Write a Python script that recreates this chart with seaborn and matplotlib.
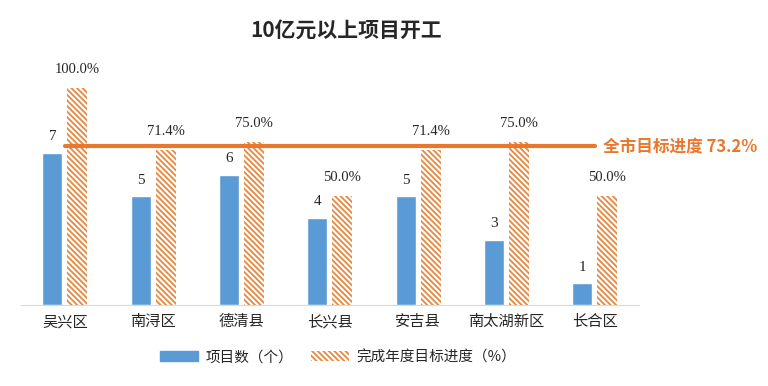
import pandas as pd
import matplotlib
matplotlib.use("Agg")
import matplotlib.pyplot as plt
import seaborn as sns
from matplotlib.patches import Patch

# ==============================
# DATA
# ==============================

regions = ['吴兴区', '南浔区', '德清县', '长兴县', '安吉县', '南太湖新区', '长合区']
project_counts = [7, 5, 6, 4, 5, 3, 1]
progress_pct = [100.0, 71.4, 75.0, 50.0, 71.4, 75.0, 50.0]
city_target = 73.2

series_names = ['项目数（个）', '完成年度目标进度（%）']

BLUE = '#5B9BD5'
ORANGE = '#E8873F'
LINE = '#E8782E'
HATCH = '\\' * 6

# ==============================
# STYLE
# ==============================

sns.set_style("white")
plt.rcParams['font.family'] = ['Liberation Serif', 'Noto Sans CJK SC', 'DejaVu Sans']
plt.rcParams['hatch.linewidth'] = 1.3
plt.rcParams['hatch.color'] = ORANGE

# long tables; NaN for the series drawn on the other axis
cnt_df = pd.DataFrame({
    'region': regions * 2,
    'series': [series_names[0]] * 7 + [series_names[1]] * 7,
    'value': project_counts + [float('nan')] * 7,
})
pct_df = pd.DataFrame({
    'region': regions * 2,
    'series': [series_names[0]] * 7 + [series_names[1]] * 7,
    'value': [float('nan')] * 7 + progress_pct,
})

fig = plt.figure(figsize=(7.68, 3.86), dpi=100)
ax = fig.add_axes([0.027, 0.21, 0.805, 0.59])
ax2 = ax.twinx()

sns.barplot(data=cnt_df, x='region', y='value', hue='series', hue_order=series_names,
            order=regions, width=0.566, gap=0.2, palette=[BLUE, BLUE], saturation=1,
            errorbar=None, legend=False, ax=ax)
sns.barplot(data=pct_df, x='region', y='value', hue='series', hue_order=series_names,
            order=regions, width=0.566, gap=0.2, palette=['white', 'white'], saturation=1,
            errorbar=None, legend=False, ax=ax2)

for p in ax2.patches:
    p.set_hatch(HATCH)
    p.set_edgecolor(ORANGE)
    p.set_linewidth(0)

ax.set_ylim(0, 10.5)
ax2.set_ylim(0, 105)
ax.set_xlim(-0.5, 6.5)

# value labels
for c in ax.containers:
    ax.bar_label(c, labels=[('' if pd.isna(v) else f'{int(v)}') for v in c.datavalues],
                 padding=7, fontsize=11)
for c in ax2.containers:
    ax2.bar_label(c, labels=[('' if pd.isna(v) else f'{v:.1f}%') for v in c.datavalues],
                  padding=9, fontsize=10.5)

# city target line
ax2.plot([0, 6.0], [city_target, city_target], color=LINE, lw=3, solid_capstyle='round')
ax2.text(6.09, city_target, f'全市目标进度 {city_target}%', color=LINE,
         fontsize=12, fontweight='bold', va='center', ha='left',
         family=['Noto Sans CJK SC', 'DejaVu Sans'], clip_on=False)

# axes styling
for a in (ax, ax2):
    for s in ['top', 'right', 'left']:
        a.spines[s].set_visible(False)
    a.set_yticks([])
    a.set_ylabel('')
    a.set_xlabel('')
ax.spines['bottom'].set_color('#D9D9D9')
ax2.spines['bottom'].set_visible(False)
ax.tick_params(axis='x', length=0, pad=6, labelsize=11)
for lbl in ax.get_xticklabels():
    lbl.set_family(['Noto Sans CJK SC', 'DejaVu Sans'])

# title
fig.text(0.45, 0.92, '10亿元以上项目开工', ha='center', va='center', fontsize=15,
         fontweight='bold', family=['Noto Sans CJK SC', 'DejaVu Sans'])

# legend
handles = [Patch(facecolor=BLUE, edgecolor=BLUE),
           Patch(facecolor='white', edgecolor=ORANGE, hatch=HATCH, linewidth=0)]
fig.legend(handles, series_names, loc='center', bbox_to_anchor=(0.44, 0.075), ncol=2,
           frameon=False, handlelength=2.6, handleheight=0.7,
           columnspacing=1.2, handletextpad=0.5,
           prop={'family': ['Noto Sans CJK SC', 'DejaVu Sans'], 'size': 10.5})

fig.savefig('out.png', dpi=100)
